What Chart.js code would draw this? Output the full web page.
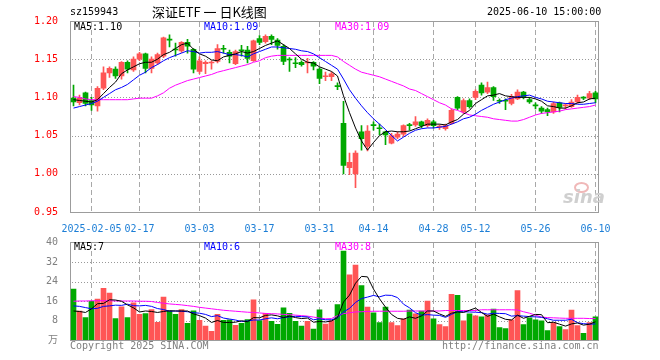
<!DOCTYPE html>
<html>
<head>
<meta charset="utf-8">
<script src="https://cdn.jsdelivr.net/npm/chart.js@4.4.1/dist/chart.umd.min.js"></script>
<style>
    body { margin: 0; background: #fff; }
    #wrap { position: relative; width: 660px; height: 360px; overflow: hidden; font-family: "DejaVu Sans Mono", monospace; font-size: 10px; background: #fff; }
    canvas { position: absolute; left: 0; z-index: 1; }
    .t { position: absolute; white-space: pre; line-height: 12px; z-index: 2; }
    .dots { position: absolute; height: 1px; z-index: 0; background: repeating-linear-gradient(to right, #999 0 1px, transparent 1px 3px); }
</style>
</head>
<body>
<div id="wrap">
    <canvas id="kline" width="660" height="232" style="top:0"></canvas>
    <canvas id="vol" width="660" height="128" style="top:232px"></canvas>
    <div class="t" style="left:70px;top:6px">sz159943</div>
    <div class="t" style="left:152px;top:3px;font-family:'Noto Sans CJK SC';font-size:13px;line-height:17px">深证ETF 一 日K线图</div>
    <div class="t" style="left:487px;top:6px">2025-06-10 15:00:00</div>
    <div class="t" style="left:74px;top:21px">MA5:1.10</div>
    <div class="t" style="left:204px;top:21px;color:#0000ff">MA10:1.09</div>
    <div class="t" style="left:335px;top:21px;color:#ff00ff">MA30:1.09</div>
    <div class="t" style="left:74px;top:241px">MA5:7</div>
    <div class="t" style="left:204px;top:241px;color:#0000ff">MA10:6</div>
    <div class="t" style="left:335px;top:241px;color:#ff00ff">MA30:8</div>
    <div class="t" style="left:70px;top:340px;color:#808080">Copyright 2025 SINA.COM</div>
    <div class="t" style="left:442px;top:340px;color:#808080">http://finance.sina.com.cn</div>
    <div class="t" style="left:574px;top:182px;width:11px;height:7px;border:2px solid #f0b8b8;border-radius:50%"></div>
    <div class="t" style="left:563px;top:188px;font-family:'DejaVu Sans';font-weight:bold;font-style:italic;font-size:18px;line-height:18px;color:#cfcfcf">sina</div>
</div>
<script>
const dates = [
    '2025-01-23','2025-01-24','2025-01-27','2025-02-05','2025-02-06','2025-02-07','2025-02-10','2025-02-11','2025-02-12','2025-02-13',
    '2025-02-14','2025-02-17','2025-02-18','2025-02-19','2025-02-20','2025-02-21','2025-02-24','2025-02-25','2025-02-26','2025-02-27',
    '2025-02-28','2025-03-03','2025-03-04','2025-03-05','2025-03-06','2025-03-07','2025-03-10','2025-03-11','2025-03-12','2025-03-13',
    '2025-03-14','2025-03-17','2025-03-18','2025-03-19','2025-03-20','2025-03-21','2025-03-24','2025-03-25','2025-03-26','2025-03-27',
    '2025-03-28','2025-03-31','2025-04-01','2025-04-02','2025-04-03','2025-04-07','2025-04-08','2025-04-09','2025-04-10','2025-04-11',
    '2025-04-14','2025-04-15','2025-04-16','2025-04-17','2025-04-18','2025-04-21','2025-04-22','2025-04-23','2025-04-24','2025-04-25',
    '2025-04-28','2025-04-29','2025-04-30','2025-05-06','2025-05-07','2025-05-08','2025-05-09','2025-05-12','2025-05-13','2025-05-14',
    '2025-05-15','2025-05-16','2025-05-19','2025-05-20','2025-05-21','2025-05-22','2025-05-23','2025-05-26','2025-05-27','2025-05-28',
    '2025-05-29','2025-05-30','2025-06-03','2025-06-04','2025-06-05','2025-06-06','2025-06-09','2025-06-10'
];

const gridDays = ['2025-02-05','2025-02-17','2025-03-03','2025-03-17','2025-03-31','2025-04-14','2025-04-28','2025-05-12','2025-05-26','2025-06-10'];
const priceLevels = [1.00, 1.05, 1.10, 1.15];
const volLevels = [8, 16, 24, 32];

const opens = [
    1.099,1.093,1.106,1.096,1.089,1.112,1.132,1.137,1.128,1.146,
    1.136,1.150,1.157,1.138,1.145,1.154,1.176,1.163,1.161,1.172,
    1.163,1.134,1.144,1.145,1.147,1.164,1.159,1.144,1.162,1.162,
    1.148,1.177,1.173,1.180,1.175,1.167,1.150,1.145,1.146,1.145,
    1.146,1.137,1.127,1.127,1.115,1.066,1.008,1.000,1.055,1.036,
    1.064,1.060,1.055,1.040,1.048,1.052,1.064,1.064,1.068,1.063,
    1.068,1.061,1.059,1.066,1.100,1.081,1.096,1.100,1.116,1.107,
    1.113,1.096,1.096,1.092,1.098,1.107,1.097,1.090,1.086,1.084,
    1.081,1.093,1.089,1.088,1.094,1.100,1.099,1.106
];
const highs = [
    1.116,1.103,1.107,1.100,1.114,1.140,1.140,1.140,1.147,1.148,
    1.153,1.159,1.158,1.153,1.158,1.179,1.182,1.171,1.173,1.176,
    1.164,1.153,1.148,1.148,1.169,1.168,1.162,1.162,1.168,1.167,
    1.175,1.181,1.182,1.182,1.177,1.169,1.152,1.152,1.148,1.151,
    1.147,1.139,1.133,1.133,1.119,1.095,1.027,1.030,1.063,1.063,
    1.068,1.065,1.056,1.053,1.055,1.064,1.066,1.075,1.069,1.072,
    1.070,1.064,1.065,1.085,1.101,1.098,1.098,1.110,1.119,1.120,
    1.114,1.098,1.098,1.104,1.110,1.108,1.100,1.093,1.088,1.086,
    1.094,1.094,1.092,1.097,1.103,1.101,1.108,1.108
];
const lows = [
    1.089,1.090,1.089,1.083,1.082,1.110,1.126,1.125,1.124,1.132,
    1.134,1.148,1.132,1.132,1.143,1.152,1.166,1.154,1.159,1.158,
    1.132,1.131,1.131,1.137,1.145,1.158,1.145,1.143,1.154,1.145,
    1.147,1.169,1.171,1.169,1.163,1.143,1.134,1.139,1.141,1.132,
    1.136,1.118,1.122,1.122,1.110,1.000,0.999,0.982,1.031,1.030,
    1.057,1.051,1.038,1.039,1.046,1.049,1.057,1.062,1.060,1.061,
    1.060,1.058,1.057,1.065,1.084,1.079,1.086,1.097,1.103,1.105,
    1.096,1.092,1.084,1.090,1.097,1.098,1.092,1.085,1.079,1.076,
    1.079,1.081,1.085,1.087,1.092,1.097,1.097,1.093
];
const closes = [
    1.094,1.099,1.092,1.090,1.112,1.132,1.138,1.128,1.146,1.137,
    1.150,1.157,1.138,1.150,1.156,1.178,1.175,1.162,1.172,1.167,
    1.137,1.148,1.146,1.146,1.164,1.163,1.154,1.160,1.161,1.151,
    1.174,1.172,1.180,1.176,1.168,1.147,1.149,1.144,1.143,1.146,
    1.141,1.125,1.128,1.131,1.114,1.011,1.015,1.027,1.046,1.056,
    1.063,1.059,1.051,1.050,1.052,1.063,1.063,1.068,1.063,1.070,
    1.063,1.062,1.063,1.083,1.086,1.096,1.088,1.108,1.106,1.113,
    1.101,1.095,1.095,1.101,1.107,1.101,1.094,1.089,1.082,1.081,
    1.092,1.087,1.090,1.094,1.100,1.099,1.105,1.098
];

const ma5 = [
    1.097,1.096,1.095,1.094,1.097,1.105,1.113,1.120,1.131,1.136,
    1.140,1.144,1.146,1.146,1.150,1.156,1.159,1.164,1.169,1.171,
    1.163,1.157,1.154,1.149,1.148,1.153,1.155,1.157,1.160,1.158,
    1.160,1.164,1.168,1.171,1.174,1.169,1.164,1.157,1.150,1.146,
    1.145,1.140,1.137,1.134,1.128,1.102,1.080,1.060,1.043,1.031,
    1.041,1.050,1.055,1.056,1.055,1.055,1.056,1.059,1.062,1.065,
    1.065,1.065,1.064,1.068,1.071,1.078,1.083,1.092,1.097,1.102,
    1.103,1.105,1.102,1.101,1.100,1.100,1.100,1.098,1.095,1.089,
    1.088,1.086,1.086,1.089,1.093,1.094,1.098,1.099
];
const ma10 = [
    1.086,1.088,1.090,1.092,1.095,1.100,1.105,1.110,1.113,1.117,
    1.123,1.129,1.133,1.139,1.143,1.148,1.152,1.155,1.158,1.161,
    1.160,1.158,1.159,1.159,1.160,1.158,1.156,1.156,1.155,1.153,
    1.157,1.160,1.163,1.166,1.166,1.165,1.164,1.163,1.161,1.160,
    1.157,1.152,1.147,1.142,1.137,1.124,1.110,1.099,1.089,1.080,
    1.072,1.065,1.058,1.050,1.043,1.048,1.053,1.057,1.059,1.060,
    1.060,1.061,1.062,1.065,1.068,1.072,1.074,1.078,1.083,1.087,
    1.091,1.094,1.097,1.099,1.101,1.102,1.103,1.100,1.098,1.095,
    1.094,1.093,1.092,1.092,1.091,1.091,1.092,1.093
];
const ma30 = [
    1.101,1.100,1.098,1.097,1.097,1.097,1.097,1.097,1.097,1.097,
    1.098,1.099,1.099,1.099,1.102,1.106,1.112,1.116,1.119,1.122,
    1.124,1.126,1.128,1.130,1.133,1.135,1.137,1.139,1.141,1.143,
    1.146,1.148,1.152,1.154,1.155,1.155,1.155,1.155,1.155,1.155,
    1.155,1.155,1.155,1.155,1.153,1.147,1.142,1.137,1.133,1.131,
    1.129,1.127,1.124,1.121,1.118,1.115,1.111,1.109,1.105,1.101,
    1.097,1.093,1.090,1.085,1.083,1.080,1.077,1.076,1.075,1.074,
    1.072,1.071,1.070,1.069,1.069,1.071,1.074,1.077,1.079,1.080,
    1.081,1.082,1.084,1.085,1.086,1.087,1.088,1.090
];

// volume, in 万手
const volumes = [
    20.9,11.9,9.2,15.9,16.8,21.2,19.2,8.8,13.6,9.2,
    15.3,10.5,10.8,12.5,7.2,17.6,11.9,10.5,12.5,6.8,
    12.0,8.1,5.7,3.6,10.5,8.1,8.3,6.0,6.8,8.4,
    16.5,8.0,10.9,7.7,6.4,13.2,10.9,7.7,5.7,7.7,
    4.5,12.4,6.5,8.0,14.5,36.5,26.7,30.7,22.3,13.5,
    11.1,7.1,13.5,7.1,5.9,8.7,12.3,10.7,11.9,16.0,
    8.7,6.3,5.5,18.7,18.3,7.9,10.7,9.9,9.5,10.3,
    12.7,5.1,4.7,8.3,20.3,6.3,9.1,8.3,7.9,3.9,
    7.1,5.5,4.3,12.3,5.9,2.7,7.1,9.5
];
const volMa5 = [
    11.9,11.7,11.3,12.8,14.9,15.0,16.5,16.4,15.9,14.4,
    13.2,11.5,11.9,11.7,11.3,11.7,12.0,11.9,11.9,11.9,
    10.7,10.0,9.0,7.2,8.0,7.2,7.2,7.3,7.9,7.5,
    9.2,9.1,10.1,10.3,9.9,9.2,9.8,9.2,8.8,9.0,
    7.3,7.6,7.4,7.8,9.2,15.6,18.4,23.3,26.1,25.9,
    20.9,16.9,13.5,10.5,8.9,8.5,9.5,8.9,9.9,11.9,
    11.9,10.7,9.7,11.0,11.5,11.3,12.2,13.1,11.3,9.7,
    10.6,9.5,8.5,8.2,10.2,8.9,9.7,10.5,10.4,7.1,
    7.3,6.5,5.7,6.6,7.0,6.1,6.5,7.5
];
const volMa10 = [
    14.0,13.8,13.3,12.8,13.0,13.8,14.0,14.3,14.2,14.7,
    14.1,14.0,14.2,13.8,12.9,12.5,11.8,11.9,11.8,11.6,
    11.2,11.0,10.5,9.6,10.0,9.0,8.6,8.2,7.6,7.8,
    8.2,8.2,8.7,9.1,8.7,9.2,9.5,9.7,9.6,9.5,
    8.3,8.7,8.3,8.3,9.1,11.5,13.0,15.4,17.0,17.6,
    18.3,17.7,18.4,18.3,17.4,14.7,13.2,11.2,10.2,10.4,
    10.2,10.1,9.3,10.5,11.7,11.6,11.5,11.4,11.2,10.6,
    11.0,10.9,10.8,9.8,10.0,9.8,9.6,9.5,9.3,8.7,
    8.1,8.1,8.1,8.5,7.1,6.7,6.5,6.6
];
const volMa30 = [
    15.9,16.0,16.0,16.1,16.1,16.1,16.1,16.0,16.0,16.0,
    16.0,15.9,15.9,15.8,15.4,15.1,14.8,14.6,14.4,14.1,
    13.8,13.4,13.1,12.8,12.5,12.2,12.0,11.8,11.6,11.4,
    11.3,11.1,10.9,10.8,10.7,10.5,10.4,10.2,10.0,9.8,
    9.4,9.0,8.7,8.8,10.0,10.8,11.2,11.5,11.6,11.7,
    11.8,11.8,11.8,11.8,11.8,11.8,11.9,11.9,11.9,11.9,
    11.9,11.9,12.1,12.1,12.1,12.1,12.1,12.1,12.4,12.4,
    12.4,12.4,12.4,12.4,12.3,11.6,11.0,10.2,9.4,9.2,
    9.1,9.0,8.9,8.9,8.9,8.9,8.8,8.8
];

const UP = '#ff5555';
const DOWN = '#00a800';
const candleColors = closes.map((c, i) => c >= opens[i] ? UP : DOWN);
const MONO = "'DejaVu Sans Mono', 'Noto Sans CJK SC', monospace";

Chart.defaults.font.family = MONO;
Chart.defaults.font.size = 10;

// dashed date lines and the gray frame
const panel = {
    id: 'panel',
    beforeDatasetsDraw(chart) {
        const ctx = chart.ctx;
        const a = chart.chartArea;
        const xs = chart.scales.x;
        const l = Math.floor(a.left), t = Math.floor(a.top);
        const r = Math.floor(a.right), b = Math.floor(a.bottom);
        ctx.save();
        ctx.lineWidth = 1;
        ctx.strokeStyle = '#a8a8a8';
        ctx.setLineDash([5, 3]);
        for (const d of gridDays) {
            const px = Math.floor(xs.getPixelForValue(dates.indexOf(d))) + 0.5;
            ctx.beginPath();
            ctx.moveTo(px, t + 1);
            ctx.lineTo(px, b);
            ctx.stroke();
        }
        ctx.setLineDash([]);
        ctx.strokeStyle = '#9c9c9c';
        ctx.strokeRect(l + 0.5, t + 0.5, r - l, b - t);
        ctx.restore();
    }
};

function maLine(data, color) {
    return { type: 'line', data: data, borderColor: color, borderWidth: 1, pointRadius: 0, fill: false, tension: 0 };
}

function xAxis(showLabels) {
    return {
        offset: true,
        grid: { display: false },
        border: { display: false },
        ticks: {
            display: showLabels,
            autoSkip: false,
            maxRotation: 0,
            minRotation: 0,
            padding: 3,
            color: '#1c7ed6',
            callback: (v, i) => {
                const d = dates[i];
                if (!gridDays.includes(d)) return '';
                return d === gridDays[0] ? d : d.slice(5);
            }
        },
        afterFit: s => { s.height = 20; }
    };
}

function yAxis(min, max, step, color, fmt) {
    return {
        min: min,
        max: max,
        grid: { display: false },
        border: { display: false },
        ticks: { stepSize: step, color: color, padding: 4.5, callback: fmt },
        afterFit: s => { s.width = 70.5; }
    };
}

const baseOptions = {
    responsive: false,
    animation: false,
    devicePixelRatio: 1
};

const kline = new Chart(document.getElementById('kline'), {
    type: 'bar',
    data: {
        labels: dates,
        datasets: [
            maLine(ma5, '#000000'),
            maLine(ma10, '#0000ff'),
            maLine(ma30, '#ff00ff'),
            {
                data: opens.map((o, i) => [o, closes[i]]),
                backgroundColor: candleColors,
                barThickness: 5,
                minBarLength: 1,
                grouped: false
            },
            {
                data: lows.map((l, i) => [l, highs[i]]),
                backgroundColor: candleColors,
                barThickness: 1,
                grouped: false
            }
        ]
    },
    options: Object.assign({}, baseOptions, {
        layout: { padding: { top: 21, right: 61.5, left: 0, bottom: 0 } },
        plugins: { legend: { display: false }, tooltip: { enabled: false } },
        scales: {
            x: xAxis(true),
            y: yAxis(0.95, 1.20, 0.05, '#ff0000', v => v.toFixed(2))
        }
    }),
    plugins: [panel]
});

const vol = new Chart(document.getElementById('vol'), {
    type: 'bar',
    data: {
        labels: dates,
        datasets: [
            maLine(volMa5, '#000000'),
            maLine(volMa10, '#0000ff'),
            maLine(volMa30, '#ff00ff'),
            {
                data: volumes,
                backgroundColor: candleColors,
                barThickness: 5,
                grouped: false
            }
        ]
    },
    options: Object.assign({}, baseOptions, {
        layout: { padding: { top: 8, right: 61.5, left: 0, bottom: 0 } },
        plugins: { legend: { display: false }, tooltip: { enabled: false } },
        scales: {
            x: xAxis(false),
            y: yAxis(0, 40, 8, '#808080', v => v === 0 ? '万' : v)
        }
    }),
    plugins: [panel]
});

// dotted value rows, placed behind the transparent canvases
function addLevels(chart, levels, offsetTop) {
    const wrap = document.getElementById('wrap');
    const a = chart.chartArea;
    const ys = chart.scales.y;
    for (const v of levels) {
        const row = document.createElement('div');
        row.className = 'dots';
        row.style.top = (offsetTop + Math.round(ys.getPixelForValue(v))) + 'px';
        row.style.left = (Math.floor(a.left) + 2) + 'px';
        row.style.width = (Math.floor(a.right) - Math.floor(a.left) - 2) + 'px';
        wrap.insertBefore(row, wrap.firstChild);
    }
}
addLevels(kline, priceLevels, 0);
addLevels(vol, volLevels, 232);
</script>
</body>
</html>
